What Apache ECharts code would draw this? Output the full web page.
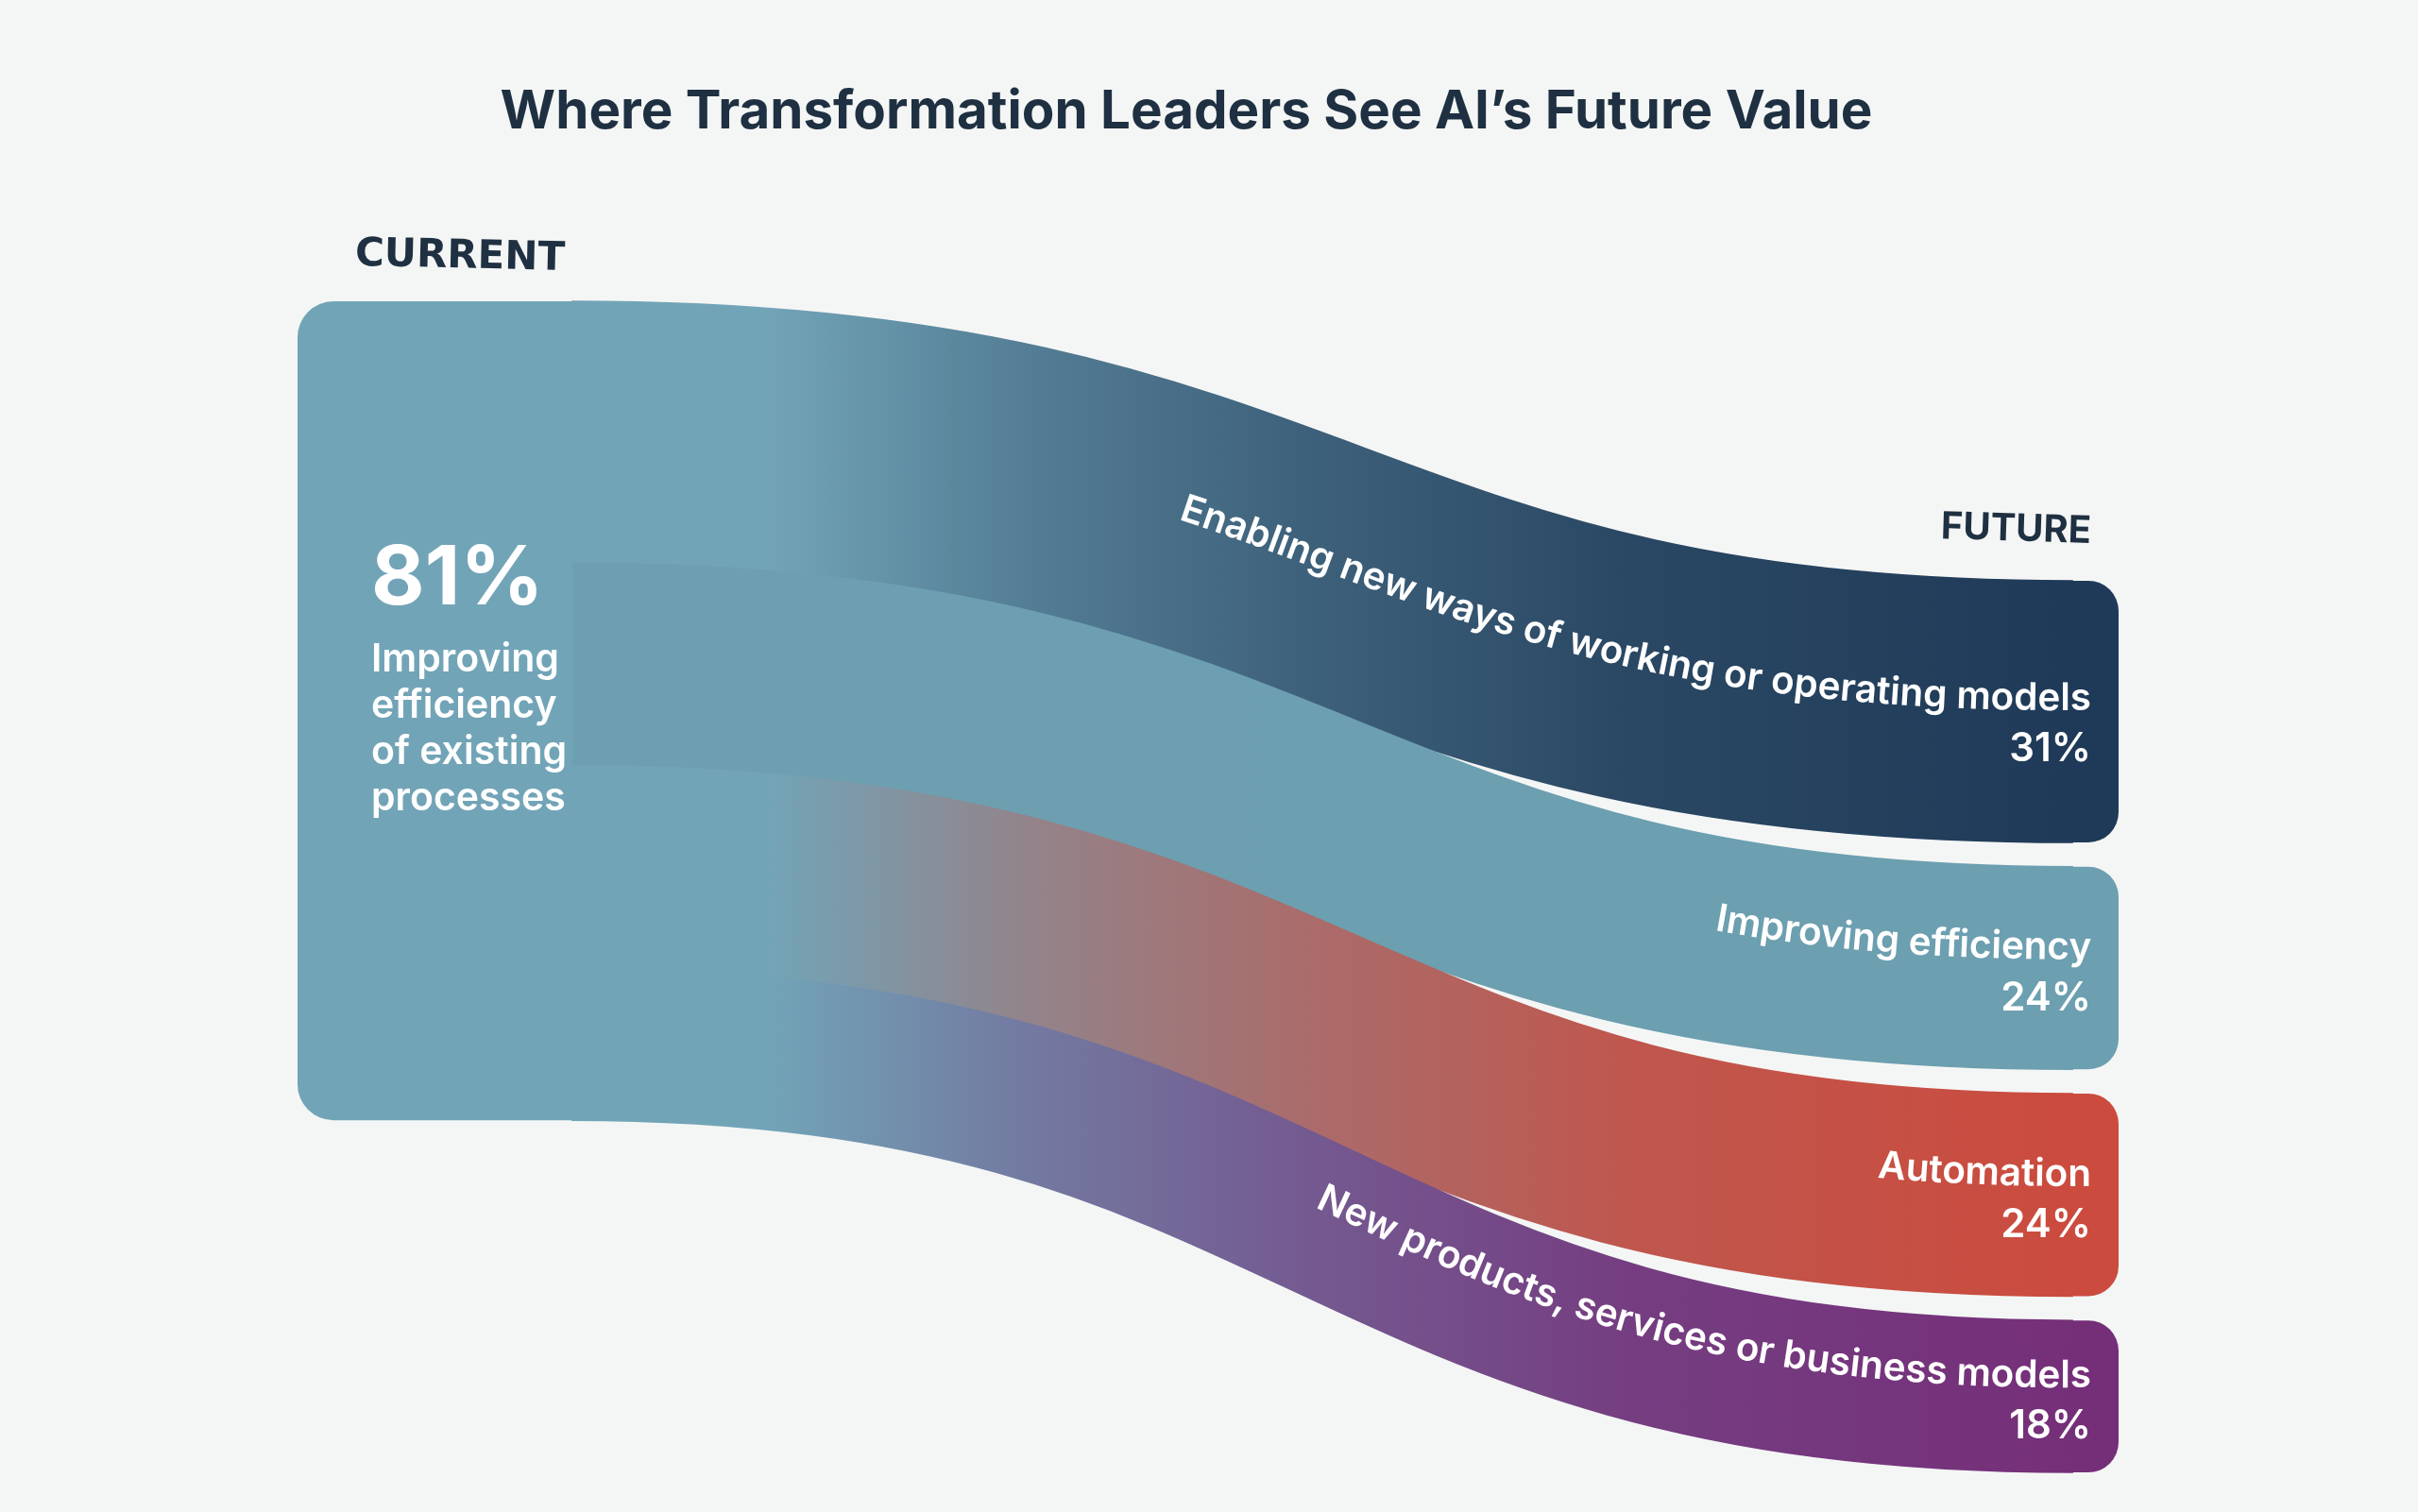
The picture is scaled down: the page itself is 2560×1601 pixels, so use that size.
<!DOCTYPE html>
<html>
<head>
<meta charset="utf-8">
<title>Where Transformation Leaders See AI’s Future Value</title>
<script src="https://cdn.jsdelivr.net/npm/echarts@6/dist/echarts.min.js"></script>
<style>
  html, body { margin: 0; padding: 0; background: #f4f6f5; }
  #chart { width: 2560px; height: 1601px; }
</style>
</head>
<body>
<div id="chart"></div>
<script>
// ---- data ----
const titleText = 'Where Transformation Leaders See AI’s Future Value';
const stageLabels = ['CURRENT', 'FUTURE'];
const sourceShare = 81;
const sourceLines = ['Improving', 'efficiency', 'of existing', 'processes'];
const targetNames = [
  'Enabling new ways of working or operating models',
  'Improving efficiency',
  'Automation',
  'New products, services or business models'
];
const flowValues = [31, 24, 24, 18];

// ---- colours ----
const SOURCE_COLOR = '#72a4b7';
const targetColors = ['#1f3a58', '#6c9fb0', '#cb4b3e', '#752f79'];
const linkStartColors = [SOURCE_COLOR, '#6d9fb1', SOURCE_COLOR, SOURCE_COLOR];
const TEXT_DARK = '#1e3041';
// where along each link the colour moves towards the target colour
const GRAD_STOPS = [[0, 0], [0.13, 0], [0.3, 0.36], [0.48, 0.62], [0.7, 0.87], [1, 1]];

// ---- layout helpers (y in value units, x as a fraction of the flow width) ----
const TARGET_OFFSET = 33.1;
const TARGET_GAP = 2.87;
const SOURCE_W = 0.151;
const TARGET_X = 0.974;
const CURVE = 0.5;
const LABEL_INSET = 29;
const labelShift = [8, 0, 0, 0];
const FONT = 'Inter';

// stacks
let acc = 0;
const srcRanges = flowValues.map(v => { const r = [acc, acc + v]; acc += v; return r; });
const total = acc;
let pos = TARGET_OFFSET;
const tgtRanges = flowValues.map(v => { const r = [pos, pos + v]; pos += v + TARGET_GAP; return r; });
const linkData = flowValues.map((v, i) => [i, srcRanges[i][0], srcRanges[i][1], tgtRanges[i][0], tgtRanges[i][1]]);
const targetData = flowValues.map((v, i) => [i, tgtRanges[i][0], tgtRanges[i][1]]);

const measureCtx = document.createElement('canvas').getContext('2d');

function hexToRgb(h) {
  const n = parseInt(h.slice(1), 16);
  return [(n >> 16) & 255, (n >> 8) & 255, n & 255];
}
function mix(a, b, f) {
  const A = hexToRgb(a), B = hexToRgb(b);
  return 'rgb(' + A.map((v, k) => Math.round(v + (B[k] - v) * f)).join(',') + ')';
}

// centre line of a flow band, as a cubic bezier
function linkGeom(api) {
  const s0 = api.coord([SOURCE_W, api.value(1)]);
  const s1 = api.coord([SOURCE_W, api.value(2)]);
  const t0 = api.coord([TARGET_X, api.value(3)]);
  const t1 = api.coord([TARGET_X, api.value(4)]);
  const x1 = s0[0], x2 = t0[0];
  return {
    x1, x2,
    cx1: x1 + (x2 - x1) * CURVE, cx2: x2 - (x2 - x1) * CURVE,
    yc0: (s0[1] + s1[1]) / 2, yc1: (t0[1] + t1[1]) / 2,
    width: s1[1] - s0[1]
  };
}

function renderLink(params, api) {
  const i = api.value(0);
  const g = linkGeom(api);
  const x1 = g.x1 - 1, x2 = g.x2 + 2;
  const d = 'M' + x1 + ' ' + g.yc0 +
    'C' + g.cx1 + ' ' + g.yc0 + ' ' + g.cx2 + ' ' + g.yc1 + ' ' + x2 + ' ' + g.yc1;
  const s = linkStartColors[i], e = targetColors[i];
  return {
    type: 'path',
    shape: { pathData: d },
    style: {
      fill: 'none',
      lineWidth: g.width + 1.5,
      lineCap: 'butt',
      stroke: new echarts.graphic.LinearGradient(x1, 0, x2, 0,
        GRAD_STOPS.map(st => ({ offset: st[0], color: mix(s, e, st[1]) })), true)
    }
  };
}

// lay text out letter by letter along a polyline, ending at x = endX
function pathText(text, pts, endX, size, weight) {
  measureCtx.font = weight + ' ' + size + 'px ' + FONT;
  const W = measureCtx.measureText(text).width;
  const cum = [0];
  for (let k = 1; k < pts.length; k++) {
    cum.push(cum[k - 1] + Math.hypot(pts[k][0] - pts[k - 1][0], pts[k][1] - pts[k - 1][1]));
  }
  let endS = cum[cum.length - 1];
  for (let k = 1; k < pts.length; k++) {
    if (pts[k][0] >= endX) {
      const f = (endX - pts[k - 1][0]) / (pts[k][0] - pts[k - 1][0]);
      endS = cum[k - 1] + f * (cum[k] - cum[k - 1]);
      break;
    }
  }
  const out = [];
  let seg = 1;
  for (let k = 0; k < text.length; k++) {
    const ch = text[k];
    if (ch === ' ') continue;
    const l = measureCtx.measureText(text.slice(0, k)).width;
    const r = measureCtx.measureText(text.slice(0, k + 1)).width;
    const s = endS - W + (l + r) / 2;
    while (seg < pts.length - 1 && cum[seg] < s) seg++;
    const p0 = pts[seg - 1], p1 = pts[seg];
    const f = (s - cum[seg - 1]) / (cum[seg] - cum[seg - 1]);
    const px = p0[0] + f * (p1[0] - p0[0]);
    const py = p0[1] + f * (p1[1] - p0[1]);
    const ang = Math.atan2(p1[1] - p0[1], p1[0] - p0[0]);
    const up = size * 0.36;
    out.push({
      type: 'text',
      x: px + up * Math.sin(ang),
      y: py - up * Math.cos(ang),
      rotation: -ang,
      style: {
        text: ch, fill: '#ffffff', fontFamily: FONT, fontSize: size, fontWeight: weight,
        align: 'center', verticalAlign: 'middle'
      }
    });
  }
  return out;
}

function renderLabel(params, api) {
  const i = api.value(0);
  const g = linkGeom(api);
  const right = api.coord([1, 0])[0] - LABEL_INSET;
  const mid = g.yc1 + labelShift[i];
  const dn = labelShift[i] - 7;   // baseline offset below the centre line
  const pts = [];
  const N = 300;
  for (let k = 0; k <= N; k++) {
    const t = k / N, u = 1 - t;
    const x = u * u * u * g.x1 + 3 * u * u * t * g.cx1 + 3 * u * t * t * g.cx2 + t * t * t * g.x2;
    const y = (u * u * u + 3 * u * u * t) * g.yc0 + (3 * u * t * t + t * t * t) * g.yc1;
    const dx = 3 * u * u * (g.cx1 - g.x1) + 6 * u * t * (g.cx2 - g.cx1) + 3 * t * t * (g.x2 - g.cx2);
    const dy = 6 * u * t * (g.yc1 - g.yc0);
    const a = Math.atan2(dy, dx);
    pts.push([x - dn * Math.sin(a), y + dn * Math.cos(a)]);
  }
  pts.push([right + 300, g.yc1 + dn]);
  const children = pathText(targetNames[i], pts, right, 40.5, 600);
  children.push({
    type: 'text', x: right, y: mid + 32,
    style: {
      text: flowValues[i] + '%', fill: '#ffffff', fontFamily: FONT, fontSize: 42, fontWeight: 600,
      align: 'right', verticalAlign: 'middle'
    }
  });
  return { type: 'group', children };
}

function renderSource(params, api) {
  const tl = api.coord([0, 0]);
  const br = api.coord([SOURCE_W, api.value(1)]);
  const tx = tl[0] + 78;
  const children = [{
    type: 'rect',
    shape: { x: tl[0], y: tl[1], width: br[0] - tl[0], height: br[1] - tl[1], r: [38, 0, 0, 38] },
    style: { fill: SOURCE_COLOR }
  }, {
    type: 'text', x: tx, y: tl[1] + 295,
    style: { text: sourceShare + '%', fill: '#ffffff', fontFamily: FONT, fontSize: 87, fontWeight: 700, verticalAlign: 'middle' }
  }, {
    type: 'text', x: tl[0] + 61, y: tl[1] - 49, rotation: -0.022,
    style: { text: stageLabels[0], fill: TEXT_DARK, fontFamily: 'DejaVu Sans', fontSize: 42, fontWeight: 700, verticalAlign: 'middle' }
  }];
  sourceLines.forEach((line, k) => {
    children.push({
      type: 'text', x: tx, y: tl[1] + 380 + k * 49,
      style: { text: line, fill: '#ffffff', fontFamily: FONT, fontSize: 41, fontWeight: 600, verticalAlign: 'middle' }
    });
  });
  return { type: 'group', children };
}

function renderTarget(params, api) {
  const i = api.value(0);
  const a = api.coord([TARGET_X, api.value(1)]);
  const b = api.coord([1, api.value(2)]);
  const children = [{
    type: 'rect',
    shape: { x: a[0], y: a[1], width: b[0] - a[0], height: b[1] - a[1], r: [0, 32, 32, 0] },
    style: { fill: targetColors[i] }
  }];
  if (i === 0) {
    children.push({
      type: 'text', x: b[0] - 29, y: a[1] - 52, rotation: -0.03,
      style: { text: stageLabels[1], fill: TEXT_DARK, fontFamily: FONT, fontSize: 40, fontWeight: 700, align: 'right', verticalAlign: 'middle' }
    });
  }
  return { type: 'group', children };
}

const option = {
  backgroundColor: '#f4f6f5',
  animation: false,
  grid: { left: 315, right: 317, top: 319, bottom: 30.4 },
  xAxis: { type: 'value', min: 0, max: 1, show: false },
  yAxis: { type: 'value', min: 0, max: 140, inverse: true, show: false },
  graphic: [{
    type: 'text', x: 1256, y: 119,
    style: { text: titleText, fill: TEXT_DARK, fontFamily: FONT, fontSize: 56.5, fontWeight: 700, align: 'center', verticalAlign: 'middle' }
  }],
  series: [
    { type: 'custom', silent: true, data: linkData, renderItem: renderLink },
    { type: 'custom', silent: true, data: [[0, total]], renderItem: renderSource },
    { type: 'custom', silent: true, data: targetData, renderItem: renderTarget },
    { type: 'custom', silent: true, data: linkData, renderItem: renderLabel }
  ]
};

const chart = echarts.init(document.getElementById('chart'));
chart.setOption(option);
</script>
</body>
</html>
